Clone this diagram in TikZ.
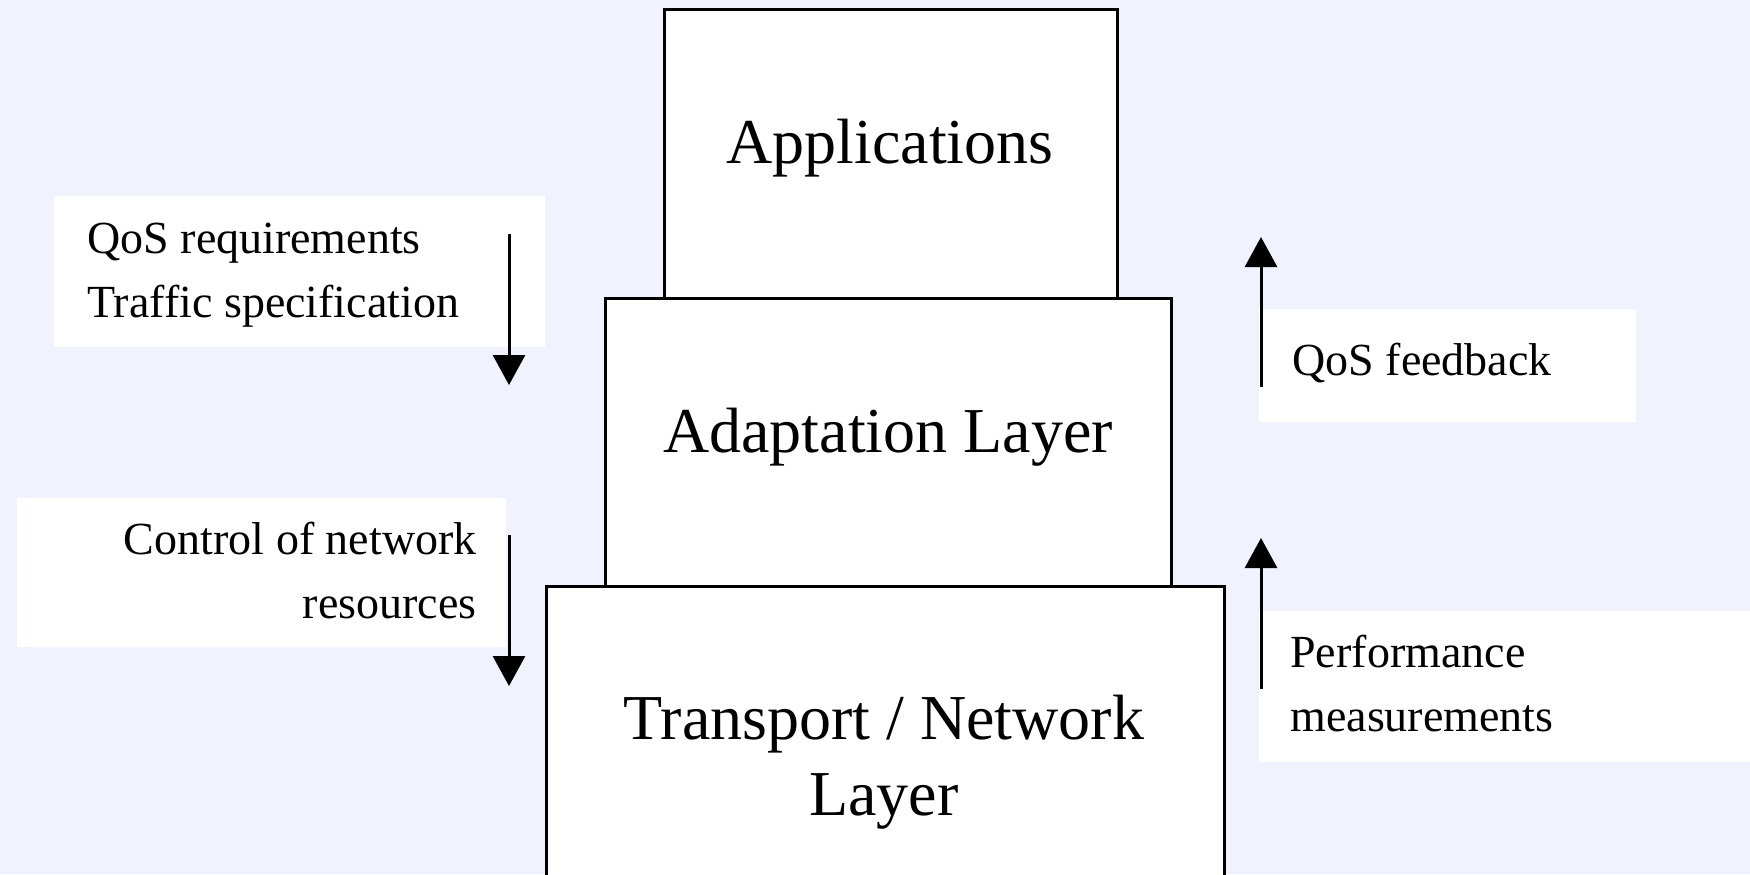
\documentclass[tikz,border=0pt]{standalone}
\usepackage{fontspec}
\setmainfont{Liberation Serif}
\usetikzlibrary{arrows.meta}
\definecolor{pagebg}{RGB}{240,243,254}
\tikzset{
  layerbox/.style={draw=black, line width=1.5pt, fill=white, inner sep=0pt, outer sep=0pt},
  layertext/.style={inner sep=0pt, align=center, font=\fontsize{32}{38}\selectfont},
  notebox/.style={fill=white, inner sep=0pt, outer sep=0pt},
  notetext/.style={inner sep=0pt, font=\fontsize{23}{31.8}\selectfont},
  flow/.style={line width=1.5pt, -{Triangle[width=16pt,length=15pt]}}
}
\begin{document}
\begin{tikzpicture}[x=0.5pt,y=-0.5pt]
  \useasboundingbox (0,0) rectangle (1750,874);
  \clip (0,0) rectangle (1750,874);
  \fill[pagebg] (0,0) rectangle (1750,874);

  % protocol stack
  \node[layerbox, minimum width=339pt, minimum height=157pt] (trans) at (885,743) {};
  \node[layerbox, minimum width=283pt, minimum height=144pt] (adapt) at (888,442) {};
  \node[layerbox, minimum width=226.5pt, minimum height=144.5pt] (apps) at (890.5,153.5) {};

  % labels (base anchor sits on the last line's baseline)
  \node[layertext, anchor=base] (appsT) at (890,163) {Applications};
  \node[layertext, anchor=base] (adaptT) at (888,452) {Adaptation Layer};
  \node[layertext, anchor=base] (transT) at (884,815) {Transport / Network\\Layer};

  % side notes
  \node[notebox, minimum width=245.5pt, minimum height=75.5pt] (req) at (299.5,271.5) {};
  \node[notetext, anchor=base west, align=left] (reqT) at (87,317) {QoS requirements\\Traffic specification};

  \node[notebox, minimum width=244.5pt, minimum height=74.5pt] (ctl) at (261.5,572.5) {};
  \node[notetext, anchor=base east, align=right] (ctlT) at (477,618) {Control of network\\resources};

  \node[notebox, minimum width=188.5pt, minimum height=56.5pt] (fb) at (1447.5,365.5) {};
  \node[notetext, anchor=base west, align=left] (fbT) at (1292,375) {QoS feedback};

  \node[notebox, minimum width=250.5pt, minimum height=75.5pt] (perf) at (1509.5,686.5) {};
  \node[notetext, anchor=base west, align=left] (perfT) at (1290,731) {Performance\\measurements};

  % arrow end points
  \coordinate (reqA) at (509,234);   \coordinate (reqB) at (509,385);
  \coordinate (ctlA) at (509,535);   \coordinate (ctlB) at (509,686);
  \coordinate (fbA) at (1261,387);   \coordinate (fbB) at (1261,237);
  \coordinate (perfA) at (1261,689); \coordinate (perfB) at (1261,538);

  \draw[flow] (reqA) -- (reqB);
  \draw[flow] (ctlA) -- (ctlB);
  \draw[flow] (fbA) -- (fbB);
  \draw[flow] (perfA) -- (perfB);
\end{tikzpicture}
\end{document}
